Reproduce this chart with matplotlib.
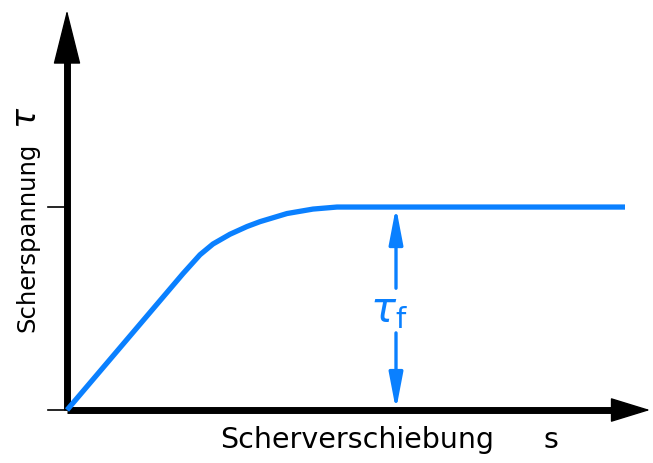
import matplotlib
matplotlib.use("Agg")
import matplotlib.pyplot as plt

# Shear stress vs. shear displacement (normalised, tau_f = 1)
s_vals = [0.0, 1.16, 1.33, 1.46, 1.63, 1.80, 1.93, 2.20, 2.46, 2.70, 5.58]
tau_vals = [0.0, 0.672, 0.765, 0.818, 0.866, 0.904, 0.928, 0.968, 0.990, 1.0, 1.0]
tau_f = 1.0
s_tau_f = 3.29          # position of the tau_f dimension arrow
y_ticks = [0.0, tau_f]

BLUE = "#0a80ff"
FONT = "DejaVu Sans"

fig = plt.figure(figsize=(6.53, 4.63), dpi=100)
ax = fig.add_axes([0, 0, 1, 1])
ax.set_xlim(-0.67, 5.86)
ax.set_ylim(-0.261, 2.020)
ax.axis("off")

# axes with arrow heads
x_end, y_end = 5.83, 1.97
ax.plot([0, x_end - 0.25], [0, 0], color="k", lw=5, solid_capstyle="butt", zorder=3)
ax.plot([0, 0], [0, y_end - 0.22], color="k", lw=5, solid_capstyle="butt", zorder=3)
ax.annotate("", xy=(x_end, 0), xytext=(x_end - 0.3, 0),
            arrowprops=dict(arrowstyle="-|>,head_length=2.6,head_width=0.8",
                            color="k", lw=1, shrinkA=0, shrinkB=0), zorder=3)
ax.annotate("", xy=(0, y_end), xytext=(0, y_end - 0.25),
            arrowprops=dict(arrowstyle="-|>,head_length=3.6,head_width=0.9",
                            color="k", lw=1, shrinkA=0, shrinkB=0), zorder=3)

# tick marks on the stress axis
for yt in y_ticks:
    ax.plot([-0.19, 0], [yt, yt], color="k", lw=1.2, zorder=3)

# stress-displacement curve
ax.plot(s_vals, tau_vals, color=BLUE, lw=3.8, solid_capstyle="butt",
        solid_joinstyle="round", zorder=4)

# tau_f dimension arrow, interrupted by its label
gap_lo, gap_hi = 0.38, 0.60
ax.annotate("", xy=(s_tau_f, tau_f), xytext=(s_tau_f, gap_hi),
            arrowprops=dict(arrowstyle="-|>,head_length=2.2,head_width=0.42",
                            color=BLUE, lw=2.4, shrinkA=0, shrinkB=0))
ax.annotate("", xy=(s_tau_f, 0), xytext=(s_tau_f, gap_lo),
            arrowprops=dict(arrowstyle="-|>,head_length=2.2,head_width=0.42",
                            color=BLUE, lw=2.4, shrinkA=0, shrinkB=0))
ax.text(s_tau_f - 0.07, 0.49, r"$\tau_{\mathrm{f}}$", color=BLUE, fontsize=30,
        ha="center", va="center")

# axis labels
ax.text(1.53, -0.15, "Scherverschiebung", fontsize=20.5, family=FONT,
        ha="left", va="center")
ax.text(4.84, -0.15, "s", fontsize=20.5, family=FONT, ha="center", va="center")
ax.text(-0.40, 0.85, "Scherspannung", fontsize=17.5, family=FONT,
        rotation=90, ha="center", va="center")
ax.text(-0.40, 1.44, r"$\tau$", fontsize=24, rotation=90,
        ha="center", va="center")

fig.savefig("out.png", dpi=100)
